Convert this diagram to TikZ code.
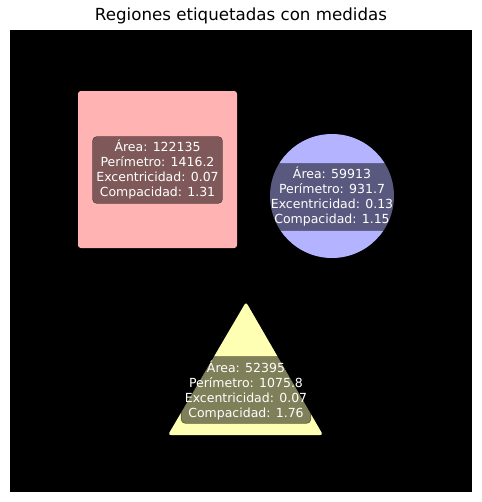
\documentclass[tikz,border=0pt]{standalone}
\usepackage{fontspec}
\setmainfont{DejaVu Sans}
\definecolor{rosa}{RGB}{255,179,179}
\definecolor{lila}{RGB}{179,179,255}
\definecolor{amarillo}{RGB}{255,255,179}
\tikzset{
  etiqueta/.style={fill=black, fill opacity=0.5, draw=black, draw opacity=0.5,
    text opacity=1, text=white, rounded corners=3pt, align=center,
    inner xsep=2.7pt, inner ysep=2.7pt, font=\fontsize{9}{10.8}\selectfont}
}
\begin{document}
\begin{tikzpicture}[x=0.72pt,y=-0.72pt]
            \useasboundingbox (0,0) rectangle (481,502);
            \node (titulo) at (241,16) {\fontsize{12}{14}\selectfont Regiones etiquetadas con medidas};

            % fondo de la imagen
            \fill[black] (10,30) rectangle (472,492);

            % regiones
            \fill[rosa, rounded corners=2pt] (78,91) rectangle (237,248);
            \fill[lila] (332,196) circle (62);
            \fill[amarillo, rounded corners=2pt] (246,302) -- (323,435) -- (168,435) -- cycle;

            % medidas de cada region
            \node[etiqueta] (cuadrado) at (157.5,170) {Área: 122135\\Perímetro: 1416.2\\Excentricidad: 0.07\\Compacidad: 1.31};
            \node[etiqueta] (circulo) at (332,197) {Área: 59913\\Perímetro: 931.7\\Excentricidad: 0.13\\Compacidad: 1.15};
            \node[etiqueta] (triangulo) at (246,390) {Área: 52395\\Perímetro: 1075.8\\Excentricidad: 0.07\\Compacidad: 1.76};
\end{tikzpicture}
\end{document}
